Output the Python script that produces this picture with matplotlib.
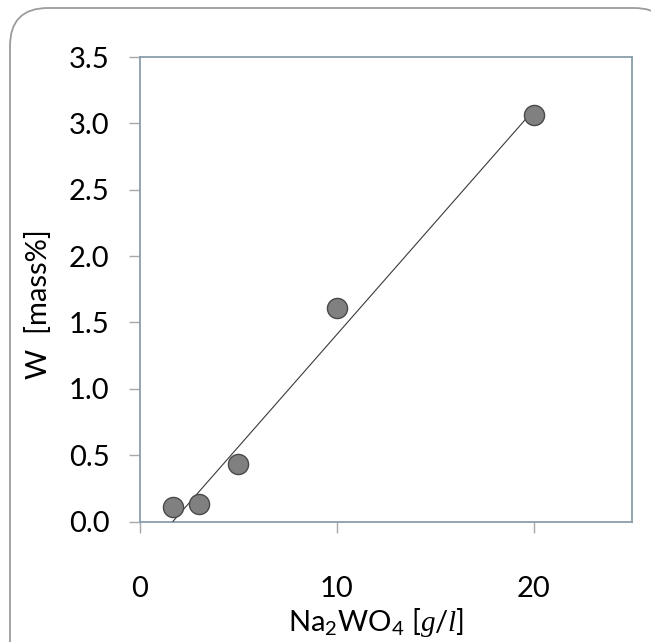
import numpy as np
import matplotlib
matplotlib.use('Agg')
import matplotlib.pyplot as plt
from matplotlib.patches import FancyBboxPatch

plt.rcParams['font.family'] = 'Lato'
plt.rcParams['mathtext.fontset'] = 'custom'
plt.rcParams['mathtext.rm'] = 'Lato'
plt.rcParams['mathtext.it'] = 'Liberation Serif:italic'

# measured points
na2wo4 = [1.7, 3.0, 5.0, 10.0, 20.0]
w_mass = [0.11, 0.13, 0.43, 1.61, 3.06]

# trend line end points
fit_x = [1.67, 20.0]
fit_y = [0.0, 3.10]

x_ticks = [0, 10, 20]
y_ticks = [0.0, 0.5, 1.0, 1.5, 2.0, 2.5, 3.0, 3.5]

W, H = 651, 642
fig = plt.figure(figsize=(W / 100, H / 100), dpi=100)

# rounded frame around the whole picture
bg = fig.add_axes([0, 0, 1, 1], zorder=-5)
bg.set_xlim(0, W)
bg.set_ylim(H, 0)
bg.axis('off')
bg.add_patch(FancyBboxPatch((10, 8), 662, 680,
                            boxstyle='round,pad=0,rounding_size=38',
                            fc='white', ec='#9c9c9c', lw=1.3))

ax = fig.add_axes([140 / W, 1 - 521.5 / H, 492 / W, 464.5 / H])
ax.set_facecolor('none')

ax.plot(fit_x, fit_y, color='#3a3a3a', lw=0.8, zorder=3)
ax.plot(na2wo4, w_mass, 'o', ms=14.5, mfc='#808080', mec='#4a4a4a',
        mew=1.0, zorder=4, clip_on=False)

ax.set_xlim(0, 25)
ax.set_ylim(0, 3.5)
ax.set_xticks(x_ticks)
ax.set_yticks(y_ticks)
ax.set_yticklabels(['%.1f' % v for v in y_ticks])

for s in ax.spines.values():
    s.set_color('#8a9eab')
    s.set_linewidth(1.3)

ax.tick_params(axis='both', direction='out', length=8, width=1,
               color='#a8a8a8', labelsize=21)
ax.tick_params(axis='x', pad=31)
ax.tick_params(axis='y', pad=14)

ax.set_xlabel(r'Na$_2$WO$_4$ [$g/l$]', fontsize=21)
ax.xaxis.set_label_coords(0.48, -0.181)
ax.set_ylabel('W  [mass%]', fontsize=21)
ax.yaxis.set_label_coords(-0.178, 0.468)

plt.savefig('out.png', dpi=100)
